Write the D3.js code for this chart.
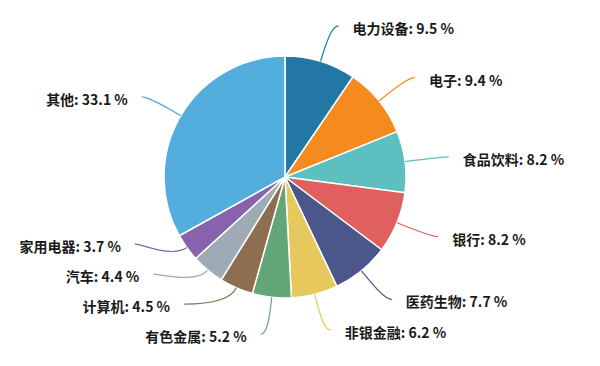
<!DOCTYPE html>
<html>
<head>
<meta charset="utf-8">
<script src="https://cdn.jsdelivr.net/npm/d3@7"></script>
<style>
  html, body { margin: 0; padding: 0; background: #ffffff; }
  svg { display: block; }
</style>
</head>
<body>
<svg id="chart" width="600" height="366"></svg>
<script>
const categories = ["电力设备", "电子", "食品饮料", "银行", "医药生物", "非银金融", "有色金属", "计算机", "汽车", "家用电器", "其他"];
const values = [9.5, 9.4, 8.2, 8.2, 7.7, 6.2, 5.2, 4.5, 4.4, 3.7, 33.1];
const colors = ["#2277a4", "#f58a1f", "#5dbfc0", "#e05f5f", "#4b568b", "#e6c85c", "#62a678", "#8d6e51", "#9eaab4", "#8663ac", "#53aedd"];

const W = 600, H = 366;
const cx = 285, cy = 177, R = 121;
const R2 = 158, len2 = 7, textGap = 14, minGap = 30;

const data = categories.map((c, i) => ({ cat: c, v: values[i], color: colors[i] }));
const svg = d3.select("#chart");
const g = svg.append("g").attr("transform", `translate(${cx},${cy})`);

const pie = d3.pie().sort(null).value(d => d.v);
const arcs = pie(data);
const arc = d3.arc().innerRadius(0).outerRadius(R);

g.selectAll("path.slice").data(arcs).join("path")
  .attr("class", "slice")
  .attr("d", arc)
  .attr("fill", d => d.data.color)
  .attr("stroke", "#ffffff")
  .attr("stroke-width", 1.5)
  .attr("stroke-linejoin", "round");

// label layout
const items = arcs.map(d => {
  const a = (d.startAngle + d.endAngle) / 2;
  const sx = Math.sin(a), sy = -Math.cos(a);
  const side = sx >= 0 ? 1 : -1;
  return { d, a, sx, sy, side, y: sy * R2 };
});
[1, -1].forEach(side => {
  const list = items.filter(it => it.side === side).sort((p, q) => q.y - p.y);
  let prev = Infinity;
  list.forEach(it => {
    if (it.y > prev - minGap) it.y = prev - minGap;
    prev = it.y;
  });
});
items.forEach(it => {
  const dy = Math.min(Math.abs(it.y), R2);
  const x2 = it.side * Math.sqrt(R2 * R2 - dy * dy);
  it.p1 = [it.sx * R, it.sy * R];
  it.c1 = [it.sx * (R + 18), it.sy * (R + 18)];
  it.p2 = [x2, it.y];
  it.p3 = [x2 + it.side * len2, it.y];
});

g.selectAll("path.lline").data(items).join("path")
  .attr("class", "lline")
  .attr("d", it => `M${it.p1[0]},${it.p1[1]} C${it.c1[0]},${it.c1[1]} ${it.p2[0]},${it.p2[1]} ${it.p3[0]},${it.p3[1]}`)
  .attr("fill", "none")
  .attr("stroke", it => it.d.data.color)
  .attr("stroke-width", 1.2);

g.selectAll("text.lbl").data(items).join("text")
  .attr("class", "lbl")
  .attr("x", it => it.p3[0] + it.side * textGap)
  .attr("y", it => it.p3[1] + 2)
  .attr("dominant-baseline", "central")
  .attr("text-anchor", it => it.side > 0 ? "start" : "end")
  .attr("font-family", "'Noto Sans CJK SC', 'Noto Sans', sans-serif")
  .attr("font-size", 14)
  .attr("font-weight", 600)
  .attr("fill", "#1a1a1a")
  .text(it => `${it.d.data.cat}: ${it.d.data.v} %`);
</script>
</body>
</html>
